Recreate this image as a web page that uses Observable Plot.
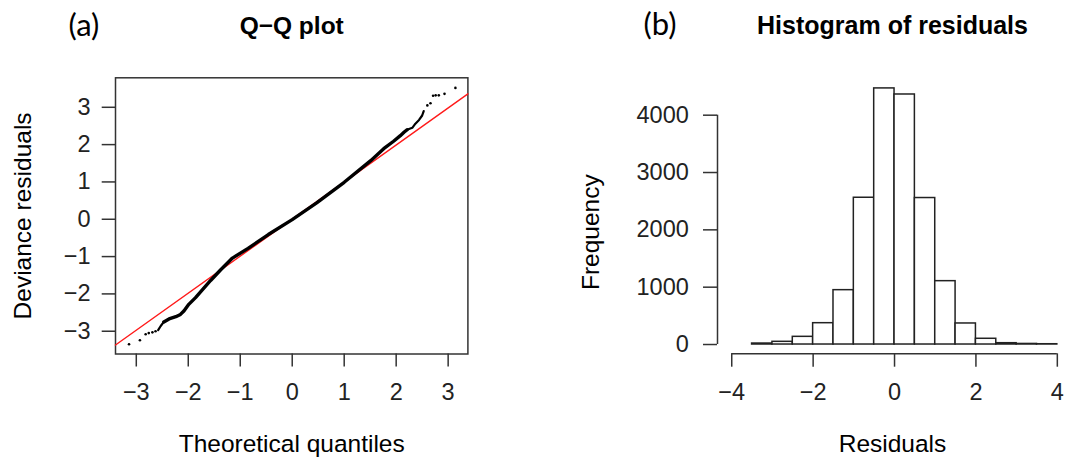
<!DOCTYPE html>
<html><head><meta charset="utf-8">
<script src="https://cdn.jsdelivr.net/npm/d3@7"></script>
<script src="https://cdn.jsdelivr.net/npm/@observablehq/plot@0.6"></script>
<style>
body{margin:0;background:#fff;}
#wrap{display:flex;width:1067px;height:465px;overflow:hidden;}
#wrap svg{display:block;flex:none;}
</style></head><body><div id="wrap"></div>
<script>
// ---- Panel (a): Q-Q plot data ----
// dense central part of the point cloud
const qqDenseX = [-2.47, -2.37, -2.24, -2.15, -2.08, -1.99, -1.86, -1.57, -1.38, -1.15, -0.85, -0.46, 0, 0.47, 1.0, 1.51, 1.76, 1.95, 2.08, 2.15, 2.21];
const qqDenseY = [-2.75, -2.67, -2.61, -2.55, -2.45, -2.28, -2.10, -1.64, -1.36, -1.04, -0.78, -0.41, -0.01, 0.44, 0.99, 1.57, 1.89, 2.09, 2.24, 2.33, 2.40];
// thinner runs of points near the tails
const qqLowRunX = [-2.58, -2.53, -2.47];
const qqLowRunY = [-2.97, -2.86, -2.75];
const qqHighRunX = [2.21, 2.31, 2.37, 2.44, 2.50, 2.53];
const qqHighRunY = [2.40, 2.45, 2.56, 2.66, 2.78, 2.90];
// isolated extreme points
const qqTailX = [-3.14, -2.93, -2.82, -2.76, -2.69, -2.63, 2.60, 2.66, 2.71, 2.76, 2.82, 2.93, 3.14];
const qqTailY = [-3.35, -3.24, -3.08, -3.05, -3.03, -3.00, 3.05, 3.11, 3.31, 3.32, 3.32, 3.36, 3.52];
const qqLineX = [-3.40, 3.38];
const qqLineY = [-3.37, 3.36];
const xTicksA = [-3, -2, -1, 0, 1, 2, 3];
const yTicksA = [-3, -2, -1, 0, 1, 2, 3];

// ---- Panel (b): histogram data ----
const binStart = [-3.5, -3, -2.5, -2, -1.5, -1, -0.5, 0, 0.5, 1, 1.5, 2, 2.5, 3, 3.5];
const binWidth = 0.5;
const counts = [17, 47, 134, 372, 948, 2560, 4467, 4361, 2555, 1105, 367, 100, 23, 10, 5];
const xTicksB = [-4, -2, 0, 2, 4];
const yTicksB = [0, 1000, 2000, 3000, 4000];

const fmt = d => d < 0 ? "\u2212" + Math.abs(d) : String(d);
const FONT = "'Liberation Sans', Arial, Helvetica, sans-serif";
const INK = "#222";

const pts = (xs, ys) => xs.map((x, i) => ({x, y: ys[i]}));
const dense = pts(qqDenseX, qqDenseY);
const lowRun = pts(qqLowRunX, qqLowRunY);
const highRun = pts(qqHighRunX, qqHighRunY);
const tail = pts(qqTailX, qqTailY);
const refLine = pts(qqLineX, qqLineY);
const bins = binStart.map((s, i) => ({x1: s, x2: s + binWidth, y: counts[i]}));

const xDomA = [-3.40, 3.38], yDomA = [-3.61, 3.79];
const plotA = Plot.plot({
  width: 540, height: 465,
  marginLeft: 115, marginRight: 72.6, marginTop: 77.3, marginBottom: 111.5,
  style: {fontFamily: FONT, fontSize: "23.5px", color: INK, background: "white", overflow: "visible"},
  x: {domain: xDomA, label: null},
  y: {domain: yDomA, label: null},
  marks: [
    Plot.frame({stroke: "#333", strokeWidth: 1.5}),
    Plot.axisX(xTicksA, {tickSize: 13, tickPadding: 16.8, tickFormat: fmt, strokeWidth: 1.5, stroke: "#333", fontSize: 23.5, label: null}),
    Plot.axisY(yTicksA, {tickSize: 13.3, tickPadding: 11.7, tickFormat: fmt, strokeWidth: 1.5, stroke: "#333", fontSize: 23.5, label: null}),
    Plot.line(refLine, {x: "x", y: "y", stroke: "#ff1a1a", strokeWidth: 1.4}),
    Plot.line(dense, {x: "x", y: "y", stroke: "black", strokeWidth: 3.4, strokeLinecap: "round"}),
    Plot.line(lowRun, {x: "x", y: "y", stroke: "black", strokeWidth: 2.2, strokeLinecap: "round"}),
    Plot.line(highRun, {x: "x", y: "y", stroke: "black", strokeWidth: 2.2, strokeLinecap: "round"}),
    Plot.dot(tail, {x: "x", y: "y", r: 1.3, fill: "black", stroke: null}),
    Plot.text(["Q\u2212Q plot"], {frameAnchor: "top", lineAnchor: "middle", dy: -51.5, fontSize: 24.5, fontWeight: "bold", fill: "black"}),
    Plot.text(["(a)"], {frameAnchor: "top-left", lineAnchor: "middle", textAnchor: "start", dx: -47, dy: -52, fontSize: 31, fontFamily: "Lato, 'Open Sans', sans-serif", fill: "black"}),
    Plot.text(["Theoretical quantiles"], {frameAnchor: "bottom", lineAnchor: "middle", dy: 90.3, fontSize: 24.5, fill: "black"}),
    Plot.text(["Deviance residuals"], {frameAnchor: "left", lineAnchor: "middle", textAnchor: "middle", rotate: -90, dx: -92, fontSize: 24.5, fill: "black"})
  ]
});

const xDomB = [-4.35, 4.25], yDomB = [-162, 4605];
const plotB = Plot.plot({
  width: 527, height: 465,
  marginLeft: 177, marginRight: 0, marginTop: 80, marginBottom: 111.7,
  style: {fontFamily: FONT, fontSize: "23.5px", color: INK, background: "white", overflow: "visible"},
  x: {domain: xDomB, label: null},
  y: {domain: yDomB, label: null},
  marks: [
    Plot.rectY(bins, {x1: "x1", x2: "x2", y1: 0, y2: "y", fill: "white", stroke: INK, strokeWidth: 1.5}),
    Plot.ruleX([xDomB[0]], {y1: yTicksB[0], y2: yTicksB[yTicksB.length - 1], stroke: "#333", strokeWidth: 1.5}),
    Plot.ruleY([yDomB[0]], {x1: xTicksB[0], x2: xTicksB[xTicksB.length - 1], stroke: "#333", strokeWidth: 1.5}),
    Plot.axisX(xTicksB, {tickSize: 13.4, tickPadding: 16.6, tickFormat: fmt, strokeWidth: 1.5, stroke: "#333", fontSize: 23.5, label: null}),
    Plot.axisY(yTicksB, {tickSize: 14, tickPadding: 14.7, tickFormat: fmt, strokeWidth: 1.5, stroke: "#333", fontSize: 23.5, label: null}),
    Plot.text(["Histogram of residuals"], {frameAnchor: "top", lineAnchor: "middle", dy: -54.5, fontSize: 25, fontWeight: "bold", fill: "black"}),
    Plot.text(["(b)"], {frameAnchor: "top-left", lineAnchor: "middle", textAnchor: "start", dx: -74, dy: -55, fontSize: 31, fontFamily: "Lato, 'Open Sans', sans-serif", fill: "black"}),
    Plot.text(["Residuals"], {frameAnchor: "bottom", lineAnchor: "middle", dy: 90.3, fontSize: 24.5, fill: "black"}),
    Plot.text(["Frequency"], {frameAnchor: "left", lineAnchor: "middle", textAnchor: "middle", rotate: -90, dx: -126.2, dy: 15, fontSize: 24.5, fill: "black"})
  ]
});

const wrap = document.getElementById("wrap");
wrap.appendChild(plotA);
wrap.appendChild(plotB);
</script>
</body></html>
